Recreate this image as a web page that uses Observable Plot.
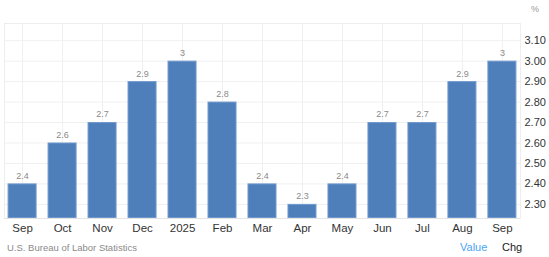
<!DOCTYPE html>
<html>
<head>
<meta charset="utf-8">
<script src="https://cdn.jsdelivr.net/npm/d3@7"></script>
<script src="https://cdn.jsdelivr.net/npm/@observablehq/plot@0.6"></script>
<style>
  html, body { margin: 0; padding: 0; background: #fff; }
  body { width: 549px; height: 257px; overflow: hidden; font-family: "Liberation Sans", Arial, sans-serif; }
  #wrap { position: relative; width: 549px; height: 257px; }
  #chart { position: absolute; left: 0; top: 0; }
  .unit { position: absolute; left: 531px; top: 4px; font-size: 9px; color: #999; }
  .src { position: absolute; left: 7px; top: 242px; font-size: 9.5px; color: #8a8a8a; }
  .val { position: absolute; left: 460px; top: 241px; font-size: 11px; color: #4ba3f5; }
  .chg { position: absolute; left: 502px; top: 241px; font-size: 11px; color: #222; }
</style>
</head>
<body>
<div id="wrap">
  <div id="chart"></div>
  <div class="unit">%</div>
  <div class="src">U.S. Bureau of Labor Statistics</div>
  <div class="val">Value</div>
  <div class="chg">Chg</div>
</div>
<script>
const labels = ["Sep", "Oct", "Nov", "Dec", "2025", "Feb", "Mar", "Apr", "May", "Jun", "Jul", "Aug", "Sep"];
const values = [2.4, 2.6, 2.7, 2.9, 3.0, 2.8, 2.4, 2.3, 2.4, 2.7, 2.7, 2.9, 3.0];
const yTicks = [2.3, 2.4, 2.5, 2.6, 2.7, 2.8, 2.9, 3.0, 3.1];
const yDomain = [2.231, 3.184];

const data = values.map((v, i) => ({i, v}));
const idx = labels.map((_, i) => i);

const chart = Plot.plot({
  width: 549,
  height: 235,
  marginLeft: 4,
  marginRight: 29,
  marginTop: 23,
  marginBottom: 17,
  style: {fontFamily: "Liberation Sans, Arial, sans-serif", background: "#fff"},
  x: {type: "band", domain: idx, paddingInner: 0.275, paddingOuter: 0.09, round: false, label: null},
  y: {domain: yDomain, label: null},
  marks: [
    Plot.ruleX(idx, {x: d => d, stroke: "#f0f0f0", strokeWidth: 1}),
    Plot.ruleY(yTicks, {stroke: "#f0f0f0", strokeWidth: 1}),
    Plot.frame({stroke: "#eeeeee"}),
    Plot.ruleY([yDomain[0]], {stroke: "#e4e4e4"}),
    Plot.barY(data, {x: "i", y1: () => yDomain[0], y2: "v", fill: "#4f7fbb", stroke: "#6f99cc", strokeWidth: 1, inset: 0.5}),
    Plot.text(data, {x: "i", y: "v", text: d => String(d.v), dy: -8, fill: "#8a8a8a", fontSize: 9}),
    Plot.axisX({ticks: idx, tickFormat: i => labels[i], tickSize: 0, tickPadding: 5, fontSize: 11.5, color: "#333", anchor: "bottom"}),
    Plot.axisY({ticks: yTicks, tickFormat: d3.format(".2f"), anchor: "right", tickSize: 0, tickPadding: 4, fontSize: 11, color: "#333"})
  ]
});
document.getElementById("chart").appendChild(chart);
</script>
</body>
</html>
